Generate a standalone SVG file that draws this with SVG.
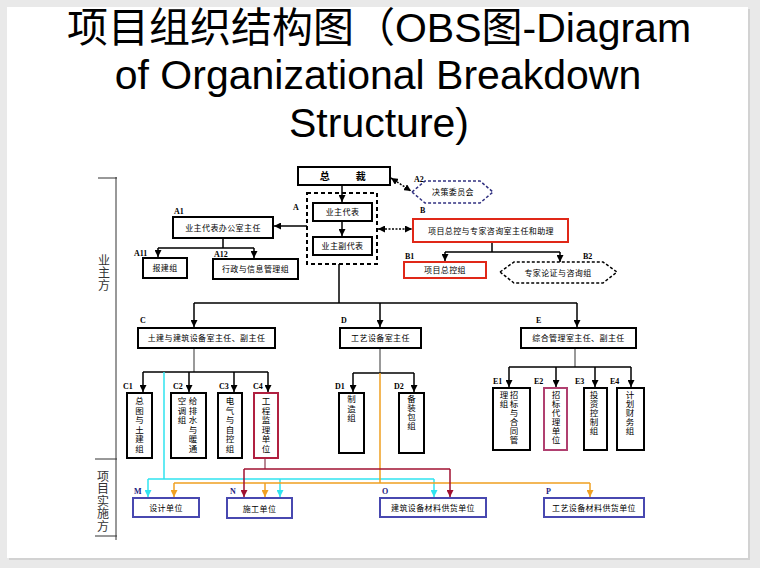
<svg xmlns="http://www.w3.org/2000/svg" width="760" height="568" viewBox="0 0 760 568">
<style>
.title{font-family:"Liberation Sans","Noto Sans CJK SC",sans-serif;font-size:41px;fill:#000;text-anchor:middle}
.t{font-family:"Noto Sans CJK SC",sans-serif;font-size:8px;fill:#000;text-anchor:middle;letter-spacing:0.4px}
.v{font-family:"Noto Sans CJK SC",sans-serif;font-size:8.5px;fill:#000;writing-mode:vertical-rl;text-orientation:upright;letter-spacing:0.5px}
.vc{letter-spacing:1px}
.lb{font-family:"Liberation Serif",serif;font-size:8px;font-weight:bold;fill:#000}
.lbb{font-family:"Liberation Serif",serif;font-size:8px;font-weight:bold;fill:#202080}
.side{font-family:"Noto Sans CJK SC",sans-serif;font-size:12px;fill:#333;writing-mode:vertical-rl;text-orientation:upright;letter-spacing:0.5px}
.box{fill:#fff;stroke:#000;stroke-width:2}
.rbox{fill:#fff;stroke:#e02818;stroke-width:2}
.bbox{fill:#fff;stroke:#4848b0;stroke-width:2}
.ln{fill:none;stroke:#000;stroke-width:1.5}
.gl{fill:none;stroke:#555;stroke-width:1.2}
.cy{fill:none;stroke:#30e4f0;stroke-width:1.5}
.or{fill:none;stroke:#f0a020;stroke-width:1.5}
.rd{fill:none;stroke:#a01030;stroke-width:1.5}
.dash{fill:none;stroke:#000;stroke-width:1.5;stroke-dasharray:2,1.5}
</style>
<defs>
<marker id="ak" viewBox="0 0 8 8" refX="8" refY="4" markerWidth="7" markerHeight="7" markerUnits="userSpaceOnUse" orient="auto"><path d="M0,0L8,4L0,8z" fill="#000"/></marker>
<marker id="ak2" viewBox="0 0 8 8" refX="8" refY="4" markerWidth="7" markerHeight="7" markerUnits="userSpaceOnUse" orient="auto-start-reverse"><path d="M0,0L8,4L0,8z" fill="#000"/></marker>
<marker id="ac" viewBox="0 0 8 8" refX="8" refY="4" markerWidth="7" markerHeight="7" markerUnits="userSpaceOnUse" orient="auto"><path d="M0,0L8,4L0,8z" fill="#30e4f0"/></marker>
<marker id="ao" viewBox="0 0 8 8" refX="8" refY="4" markerWidth="7" markerHeight="7" markerUnits="userSpaceOnUse" orient="auto"><path d="M0,0L8,4L0,8z" fill="#f0a020"/></marker>
<marker id="ar" viewBox="0 0 8 8" refX="8" refY="4" markerWidth="7" markerHeight="7" markerUnits="userSpaceOnUse" orient="auto"><path d="M0,0L8,4L0,8z" fill="#a01030"/></marker>
</defs>

<rect x="0" y="0" width="760" height="568" fill="#e9e9e9"/>
<rect x="9" y="9" width="741" height="551" fill="#d2d2d2"/>
<rect x="7" y="7" width="741" height="551" fill="#fff"/>

<text class="title" x="379" y="42">项目组织结构图（OBS图-Diagram</text>
<text class="title" x="378" y="89">of Organizational Breakdown</text>
<text class="title" x="379" y="137">Structure)</text>

<g id="side">
<path d="M116,177V540M98,178H117M95,459H117M95,536H117" fill="none" stroke="#333" stroke-width="1"/>
<text class="side" x="104" y="254">业主方</text>
<text class="side" x="103" y="470">项目实施方</text>
</g>

<g id="connectors">
<path class="ln" d="M342,185V202" marker-end="url(#ak)"/>
<path class="ln" d="M342,221V236" marker-end="url(#ak)"/>
<path class="ln" d="M307,226H274" marker-end="url(#ak)"/>
<path class="ln" d="M223,238V248M158,248H254"/>
<path class="ln" d="M158,248V257" marker-end="url(#ak)"/>
<path class="ln" d="M254,248V258" marker-end="url(#ak)"/>
<path class="dash" d="M391,178L411,191" marker-start="url(#ak2)" marker-end="url(#ak2)"/>
<path class="dash" d="M378,229H412" marker-start="url(#ak2)" marker-end="url(#ak2)"/>
<path class="ln" d="M492,242V252M445,252H560"/>
<path class="ln" d="M445,252V261" marker-end="url(#ak)"/>
<path class="ln" d="M560,252V262" marker-end="url(#ak)"/>
<path class="ln" d="M339,264V303M194,303H577"/>
<path class="ln" d="M194,303V327" marker-end="url(#ak)"/>
<path class="ln" d="M380,303V327" marker-end="url(#ak)"/>
<path class="ln" d="M577,303V327" marker-end="url(#ak)"/>
<path class="gl" d="M194,348V372"/>
<path class="ln" d="M143,372H268"/>
<path class="ln" d="M143,372V392" marker-end="url(#ak)"/>
<path class="ln" d="M189,372V392" marker-end="url(#ak)"/>
<path class="ln" d="M234,372V392" marker-end="url(#ak)"/>
<path class="ln" d="M268,372V392" marker-end="url(#ak)"/>
<path class="gl" d="M380,348V373"/>
<path class="ln" d="M353,373H414"/>
<path class="ln" d="M353,373V392" marker-end="url(#ak)"/>
<path class="ln" d="M414,373V392" marker-end="url(#ak)"/>
<path class="gl" d="M575,348V367"/>
<path class="ln" d="M509,367H631"/>
<path class="ln" d="M509,367V387" marker-end="url(#ak)"/>
<path class="ln" d="M556,367V387" marker-end="url(#ak)"/>
<path class="ln" d="M595,367V387" marker-end="url(#ak)"/>
<path class="ln" d="M631,367V387" marker-end="url(#ak)"/>
<path class="cy" d="M164,372V479M148,479H434"/>
<path class="cy" d="M148,479V497" marker-end="url(#ac)"/>
<path class="cy" d="M280,479V497" marker-end="url(#ac)"/>
<path class="cy" d="M434,479V497" marker-end="url(#ac)"/>
<path class="or" d="M380,373V483M174,483H590"/>
<path class="or" d="M174,483V497" marker-end="url(#ao)"/>
<path class="or" d="M265,483V497" marker-end="url(#ao)"/>
<path class="or" d="M590,483V497" marker-end="url(#ao)"/>
<path fill="none" stroke="#a06070" stroke-width="1.5" d="M265,458V469"/>
<path class="rd" d="M244,469H450"/>
<path class="rd" d="M244,469V497" marker-end="url(#ar)"/>
<path class="rd" d="M450,469V497" marker-end="url(#ar)"/>
</g>

<g id="zongcai">
<rect class="box" x="298" y="167" width="92" height="18"/>
<text class="t" x="325" y="180" style="font-size:10px;font-weight:bold">总</text>
<text class="t" x="361" y="180" style="font-size:10px;font-weight:bold">裁</text>
</g>

<g id="A">
<rect x="307" y="193" width="70" height="71" fill="none" stroke="#000" stroke-width="2" stroke-dasharray="4,3"/>
<text class="lb" x="293" y="210">A</text>
</g>
<g id="yezhu-daibiao">
<rect class="box" x="313" y="203" width="59" height="18"/>
<text class="t" x="342.5" y="215">业主代表</text>
</g>
<g id="yezhu-fudaibiao">
<rect class="box" x="313" y="237" width="59" height="18"/>
<text class="t" x="342.5" y="249">业主副代表</text>
</g>

<g id="A2">
<polygon points="412,192 425,181 480,181 493,192 480,203 425,203" fill="#fff" stroke="#303080" stroke-width="1.5" stroke-dasharray="3,2"/>
<text class="lb" x="414" y="182">A2</text>
<text class="t" x="453" y="195">决策委员会</text>
</g>

<g id="A1">
<rect class="box" x="173" y="217" width="100" height="21"/>
<text class="lb" x="174" y="214">A1</text>
<text class="t" x="223" y="230.5">业主代表办公室主任</text>
</g>
<g id="A11">
<rect class="box" x="143" y="258" width="44" height="20"/>
<text class="lb" x="134" y="256">A11</text>
<text class="t" x="165" y="271">报建组</text>
</g>
<g id="A12">
<rect class="box" x="213" y="259" width="85" height="20"/>
<text class="lb" x="214" y="257">A12</text>
<text class="t" x="255.5" y="272">行政与信息管理组</text>
</g>

<g id="B">
<rect class="rbox" x="413" y="219" width="155" height="23"/>
<text class="lb" x="420" y="213">B</text>
<text class="t" x="491" y="233.5">项目总控与专家咨询室主任和助理</text>
</g>
<g id="B1">
<rect class="rbox" x="404" y="262" width="82" height="16"/>
<text class="lb" x="405" y="259">B1</text>
<text class="t" x="445" y="273">项目总控组</text>
</g>
<g id="B2">
<polygon points="500,272 514,262 603,262 617,272 603,283 514,283" fill="#fff" stroke="#000" stroke-width="1.5" stroke-dasharray="3,2"/>
<text class="lb" x="583" y="259">B2</text>
<text class="t" x="558" y="275.5">专家论证与咨询组</text>
</g>

<g id="C">
<rect class="box" x="138" y="328" width="137" height="20"/>
<text class="lb" x="140" y="323">C</text>
<text class="t" x="206.5" y="341">土建与建筑设备室主任、副主任</text>
</g>
<g id="D">
<rect class="box" x="340" y="328" width="81" height="20"/>
<text class="lb" x="341" y="323">D</text>
<text class="t" x="380.5" y="341">工艺设备室主任</text>
</g>
<g id="E">
<rect class="box" x="521" y="328" width="115" height="20"/>
<text class="lb" x="536" y="323">E</text>
<text class="t" x="578.5" y="341">综合管理室主任、副主任</text>
</g>

<g id="C1">
<rect class="box" x="127" y="393" width="25" height="65"/>
<text class="lb" x="123" y="389">C1</text>
<text class="v vc" x="139.5" y="397">总图与土建组</text>
</g>
<g id="C2">
<rect class="box" x="171" y="393" width="35" height="65"/>
<text class="lb" x="173" y="389">C2</text>
<text class="v vc" x="193" y="397">给排水与暖通</text>
<text class="v vc" x="182" y="397">空调组</text>
</g>
<g id="C3">
<rect class="box" x="218" y="393" width="24" height="65"/>
<text class="lb" x="219" y="389">C3</text>
<text class="v vc" x="230" y="397">电气与自控组</text>
</g>
<g id="C4">
<rect x="254" y="393" width="24" height="65" fill="#fff" stroke="#b02040" stroke-width="2"/>
<text class="lb" x="253" y="389">C4</text>
<text class="v vc" x="266" y="397">工程监理单位</text>
</g>

<g id="D1">
<rect class="box" x="339" y="393" width="25" height="60"/>
<text class="lb" x="335" y="389">D1</text>
<text class="v vc" x="351.5" y="395">制造组</text>
</g>
<g id="D2">
<rect class="box" x="399" y="393" width="25" height="60"/>
<text class="lb" x="394" y="389">D2</text>
<text class="v" x="411.5" y="395">备装包组</text>
</g>

<g id="E1">
<rect class="box" x="493" y="388" width="37" height="62"/>
<text class="lb" x="493" y="384">E1</text>
<text class="v" x="514" y="391">招标与合同管</text>
<text class="v" x="504" y="391">理组</text>
</g>
<g id="E2">
<rect x="544" y="388" width="23" height="62" fill="#fff" stroke="#b04070" stroke-width="2"/>
<text class="lb" x="534" y="384">E2</text>
<text class="v" x="556" y="391">招标代理单位</text>
</g>
<g id="E3">
<rect class="box" x="584" y="388" width="23" height="62"/>
<text class="lb" x="575" y="384">E3</text>
<text class="v" x="594" y="391">投资控制组</text>
</g>
<g id="E4">
<rect class="box" x="617" y="388" width="27" height="62"/>
<text class="lb" x="610" y="384">E4</text>
<text class="v" x="630" y="391">计划财务组</text>
</g>

<g id="M">
<rect class="bbox" x="133" y="498" width="66" height="19"/>
<text class="lbb" x="134" y="494">M</text>
<text class="t" x="166" y="511">设计单位</text>
</g>
<g id="N">
<rect class="bbox" x="227" y="498" width="65" height="20"/>
<text class="lbb" x="230" y="494">N</text>
<text class="t" x="259.5" y="511.5">施工单位</text>
</g>
<g id="O">
<rect class="bbox" x="380" y="498" width="106" height="19"/>
<text class="lbb" x="382" y="494">O</text>
<text class="t" x="433" y="511">建筑设备材料供货单位</text>
</g>
<g id="P">
<rect class="bbox" x="544" y="498" width="100" height="19"/>
<text class="lbb" x="546" y="494">P</text>
<text class="t" x="594" y="511">工艺设备材料供货单位</text>
</g>
</svg>
